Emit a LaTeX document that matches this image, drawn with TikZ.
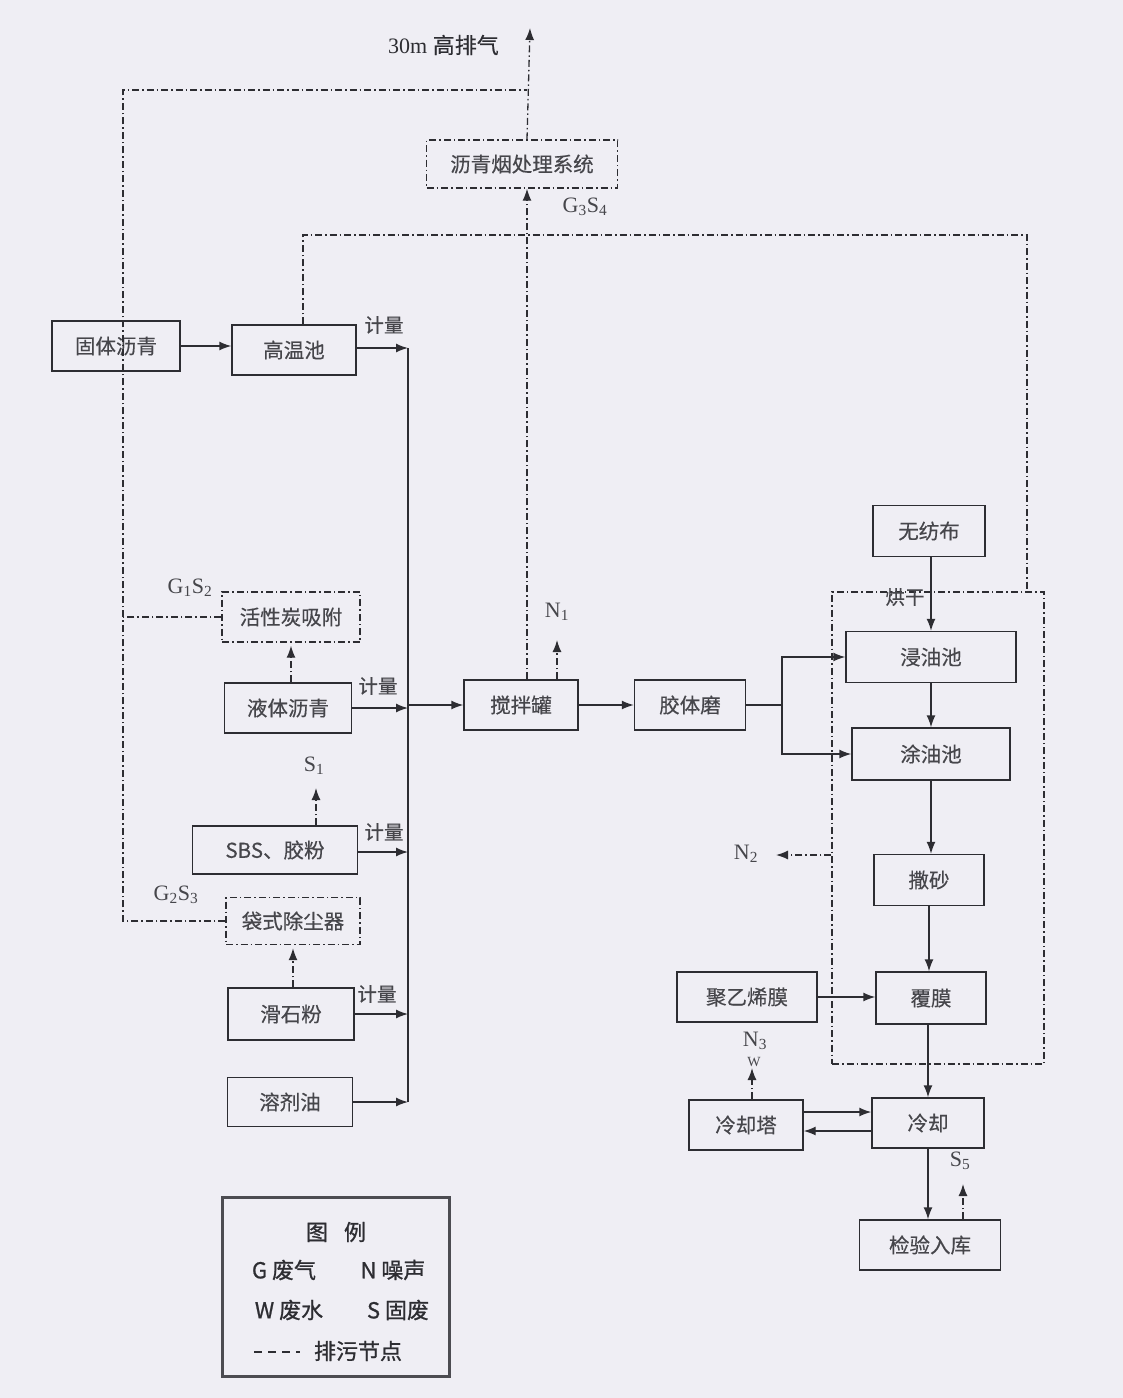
\documentclass[tikz,border=0pt]{standalone}
\usepackage{fontspec}
\setmainfont{Liberation Serif}
\newfontfamily\cjk[FakeBold=0.35]{Noto Sans CJK SC}
\newfontfamily\cjkb[FakeBold=0.9]{Noto Sans CJK SC}
\usetikzlibrary{arrows.meta}
\definecolor{paper}{RGB}{239,238,244}
\definecolor{ink}{RGB}{45,45,50}
\definecolor{txt}{RGB}{70,70,75}
\tikzset{
  box/.style={draw=ink, line width=1.4pt, minimum height=50pt, inner sep=0pt, text=txt, font=\cjk\fontsize{20.5}{23}\selectfont},
  ddbox/.style={box, dash pattern=on 7pt off 3pt on 1.5pt off 3pt},
  ln/.style={draw=ink, line width=1.4pt},
  arr/.style={ln, -{Latex[length=12pt,width=9pt]}},
  dd/.style={draw=ink, line width=1.3pt, dash pattern=on 7pt off 3pt on 1.5pt off 3pt},
  ddarr/.style={dd, -{Latex[length=12pt,width=9pt]}},
  lab/.style={text=txt, inner sep=0pt, font=\cjk\fontsize{19.5}{22}\selectfont},
  sym/.style={text=txt, inner sep=0pt, font=\fontsize{22}{24}\selectfont},
}
\begin{document}
\begin{tikzpicture}[x=1pt,y=-1pt]
\fill[paper] (0,0) rectangle (1123,1398);
\useasboundingbox (0,0) rectangle (1123,1398);

% left side nodes
\node[box, minimum width=128pt] (gt) at (116,346) {固体沥青};
\node[box, minimum width=124pt] (gw) at (294,350) {高温池};
\node[ddbox, minimum width=138pt] (hx) at (291,617) {活性炭吸附};
\node[box, minimum width=127pt] (yt) at (288,708) {液体沥青};
\node[box, minimum width=165pt, minimum height=48pt] (sbs) at (275,850) {SBS、胶粉};
\node[ddbox, minimum width=134pt, minimum height=47pt] (dc) at (293,921) {袋式除尘器};
\node[box, minimum width=126pt, minimum height=52pt] (hs) at (291,1014) {滑石粉};
\node[box, minimum width=125pt, minimum height=49pt] (rj) at (290,1102) {溶剂油};

% middle
\node[ddbox, minimum width=191pt, minimum height=48pt] (sys) at (522,164) {沥青烟处理系统};
\node[box, minimum width=114pt] (mix) at (521,705) {搅拌罐};
\node[box, minimum width=111pt] (mill) at (690,705) {胶体磨};

% right line
\node[box, minimum width=112pt, minimum height=51pt] (wf) at (929,531) {无纺布};
\node[box, minimum width=170pt, minimum height=51pt] (yy) at (931,657) {浸油池};
\node[box, minimum width=158pt, minimum height=52pt] (ty) at (931,754) {涂油池};
\node[box, minimum width=110pt, minimum height=51pt] (ss) at (929,880) {撒砂};
\node[box, minimum width=110pt, minimum height=52pt] (fm) at (931,998) {覆膜};
\node[box, minimum width=140pt] (pe) at (747,997) {聚乙烯膜};
\node[box, minimum width=112pt] (lq) at (928,1123) {冷却};
\node[box, minimum width=114pt] (lt) at (746,1125) {冷却塔};
\node[box, minimum width=141pt] (jy) at (930,1245) {检验入库};
\node[ddbox, minimum width=212pt, minimum height=472pt] (pbox) at (938,828) {};

% coordinates
\coordinate (ctop) at (408,348);
\coordinate (cbot) at (408,1102);
\coordinate (cmix) at (408,705);
\coordinate (ptop) at (530,28);
\coordinate (j1) at (527,90);
\coordinate (L1) at (123,90);
\coordinate (T1) at (303,235);
\coordinate (T2) at (1027,235);
\coordinate (br) at (782,705);
\coordinate (n2tip) at (776,855);
\coordinate (n1tip) at (557,640);
\coordinate (s1tip) at (316,788);
\coordinate (n3tip) at (752,1068);
\coordinate (s5tip) at (963,1184);

% solid flow
\draw[arr] (gt.east) -- (gt.east -| gw.west);
\draw[ln] (ctop) -- (cbot);
\draw[arr] (gw.east |- ctop) -- (ctop);
\draw[arr] (yt.east) -- (yt.east -| ctop);
\draw[arr] ([yshift=-2pt]sbs.east) -- ([yshift=-2pt]sbs.east -| ctop);
\draw[arr] (hs.east) -- (hs.east -| ctop);
\draw[arr] (rj.east) -- (rj.east -| ctop);
\draw[arr] (cmix) -- (mix.west);
\draw[arr] (mix.east) -- (mill.west);
\draw[ln] (mill.east) -- (br);
\draw[arr] (br) |- (yy.west);
\draw[arr] (br) |- (ty.west);
\draw[arr] (wf.south -| yy.north) -- (yy.north);
\draw[arr] (yy.south) -- (ty.north);
\draw[arr] (ty.south) -- (ty.south |- ss.north);
\draw[arr] (ss.south) -- (ss.south |- fm.north);
\draw[arr] (pe.east) -- (pe.east -| fm.west);
\draw[arr] (fm.south -| lq.north) -- (lq.north);
\draw[arr] (lq.south) -- (lq.south |- jy.north);
\draw[arr] ([yshift=13pt]lt.east) -- ([yshift=13pt]lt.east -| lq.west);
\draw[arr] ([yshift=-8pt]lq.west) -- ([yshift=-8pt]lq.west -| lt.east);

% dash-dot gas lines
\draw[ddarr] (j1 |- sys.north) -- (ptop);
\draw[dd] (dc.west) -| (L1) -- (j1);
\draw[dd] (hx.west) -- (hx.west -| L1);
\draw[ddarr] (j1 |- mix.north) -- (j1 |- sys.south);
\draw[dd] (T1 |- gw.north) -- (T1) -- (T2) -- (T2 |- pbox.north);
\draw[ddarr] (yt.north -| hx.south) -- ([yshift=-3pt]hx.south);
\draw[ddarr] (hs.north -| dc.south) -- ([yshift=-3pt]dc.south);
\draw[ddarr] (n1tip |- mix.north) -- (n1tip);
\draw[ddarr] (s1tip |- sbs.north) -- (s1tip);
\draw[ddarr] (pbox.west |- n2tip) -- (n2tip);
\draw[ddarr] (n3tip |- lt.north) -- (n3tip);
\draw[ddarr] (s5tip |- jy.north) -- (s5tip);

% labels
\node[sym, anchor=east, text=ink] (l30) at (499,45) {30m {\cjk 高排气}};
\node[sym] (g3s4) at (585,207) {G\textsubscript{3}S\textsubscript{4}};
\node[lab] (jl1) at (384,325) {计量};
\node[lab] (jl2) at (378,686) {计量};
\node[lab] (jl3) at (384,832) {计量};
\node[lab] (jl4) at (377,994) {计量};
\node[sym] (g1s2) at (190,588) {G\textsubscript{1}S\textsubscript{2}};
\node[sym] (s1) at (314,766) {S\textsubscript{1}};
\node[sym] (g2s3) at (176,895) {G\textsubscript{2}S\textsubscript{3}};
\node[sym] (n1) at (557,612) {N\textsubscript{1}};
\node[lab] (hg) at (905,597) {烘干};
\node[sym] (n2) at (746,854) {N\textsubscript{2}};
\node[sym] (n3) at (755,1041) {N\textsubscript{3}};
\node[sym, font=\fontsize{14}{15}\selectfont] (w) at (754,1062) {W};
\node[sym] (s5) at (960,1161) {S\textsubscript{5}};

% legend
\node[draw=ink!85, line width=3pt, minimum width=227pt, minimum height=179pt, inner sep=0pt] (leg) at (336,1287) {};
\node[lab, text=ink, font=\cjkb\fontsize{22}{24}\selectfont] (lg0) at (336,1232) {图\hspace{16pt}例};
\node[lab, text=ink, font=\cjkb\fontsize{22}{24}\selectfont] (lg1) at (284,1270) {G 废气};
\node[lab, text=ink, font=\cjkb\fontsize{22}{24}\selectfont] (lg2) at (393,1270) {N 噪声};
\node[lab, text=ink, font=\cjkb\fontsize{22}{24}\selectfont] (lg3) at (289,1310) {W 废水};
\node[lab, text=ink, font=\cjkb\fontsize{22}{24}\selectfont] (lg4) at (398,1310) {S 固废};
\node[lab, text=ink, font=\cjkb\fontsize{22}{24}\selectfont] (lg5) at (358,1351) {排污节点};
\draw[ln, line width=1.8pt, dash pattern=on 8pt off 6pt] (254,1352) -- (300,1352);
\end{tikzpicture}
\end{document}
